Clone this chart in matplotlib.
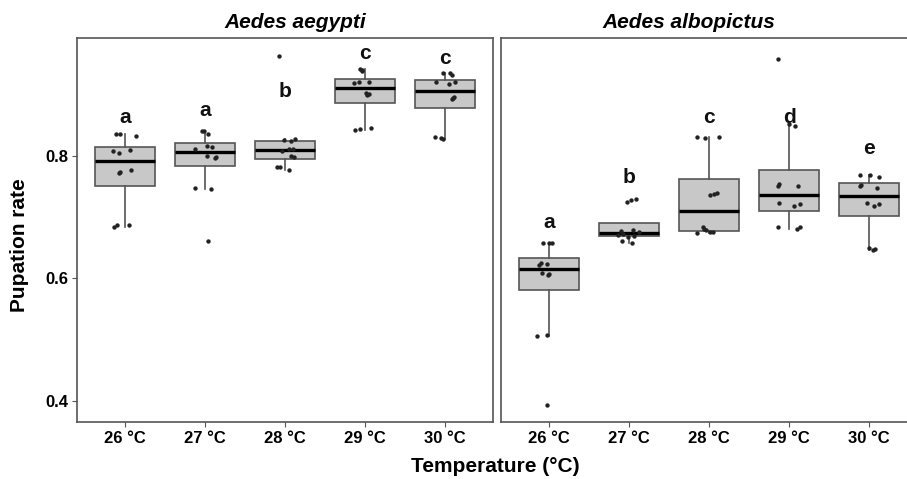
import matplotlib

matplotlib.use("Agg")
import matplotlib.pyplot as plt

plt.rcParams["font.family"] = ["Liberation Sans", "DejaVu Sans"]

TEMPS = ["26 °C", "27 °C", "28 °C", "29 °C", "30 °C"]
SPECIES = ["Aedes aegypti", "Aedes albopictus"]

# pupation rate per replicate
AEG_26 = [0.835, 0.835, 0.832, 0.808, 0.805, 0.809, 0.771, 0.774, 0.776, 0.683, 0.686, 0.687]
AEG_27 = [0.840, 0.841, 0.836, 0.811, 0.815, 0.814, 0.800, 0.796, 0.798, 0.747, 0.746, 0.660]
AEG_28 = [0.826, 0.824, 0.827, 0.811, 0.811, 0.808, 0.800, 0.798, 0.782, 0.781, 0.777, 0.962]
AEG_29 = [0.942, 0.940, 0.938, 0.918, 0.920, 0.921, 0.902, 0.901, 0.899, 0.842, 0.843, 0.845]
AEG_30 = [0.935, 0.935, 0.932, 0.920, 0.917, 0.921, 0.893, 0.895, 0.894, 0.831, 0.829, 0.827]

ALB_26 = [0.657, 0.657, 0.658, 0.622, 0.625, 0.623, 0.609, 0.606, 0.605, 0.506, 0.507, 0.393]
ALB_27 = [0.729, 0.727, 0.724, 0.679, 0.677, 0.676, 0.672, 0.671, 0.669, 0.667, 0.660, 0.657]
ALB_28 = [0.831, 0.828, 0.830, 0.736, 0.737, 0.739, 0.683, 0.680, 0.678, 0.676, 0.676, 0.674]
ALB_29 = [0.851, 0.848, 0.750, 0.753, 0.751, 0.722, 0.718, 0.721, 0.683, 0.680, 0.684, 0.957]
ALB_30 = [0.769, 0.768, 0.765, 0.750, 0.752, 0.747, 0.722, 0.718, 0.721, 0.649, 0.646, 0.648]

# horizontal jitter of each dot (category units), as seen in the picture
AEG_JIT = [
    [-0.115, -0.065, 0.135, -0.148, -0.077, 0.06, -0.08, -0.065, 0.073, -0.135, -0.106, 0.052],
    [-0.04, -0.01, 0.035, -0.13, 0.023, 0.085, 0.023, 0.12, 0.135, -0.13, 0.073, 0.035],
    [-0.015, 0.08, 0.13, 0.05, 0.1, -0.04, 0.07, 0.11, -0.1, -0.065, 0.05, -0.075],
    [-0.06, -0.04, -0.035, -0.14, -0.07, 0.045, 0.015, 0.055, 0.025, -0.12, -0.06, 0.075],
    [-0.026, 0.065, 0.086, -0.11, 0.05, 0.13, 0.086, 0.115, 0.1, -0.13, -0.05, -0.026],
]
ALB_JIT = [
    [-0.083, 0.0, 0.03, -0.125, -0.1, -0.033, -0.088, 0.0, -0.01, -0.158, -0.025, -0.033],
    [0.084, 0.017, -0.033, 0.05, -0.1, 0.125, -0.075, -0.145, 0.06, -0.02, -0.095, 0.04],
    [-0.15, -0.054, 0.121, 0.009, 0.059, 0.1, -0.083, -0.066, -0.041, 0.009, 0.043, -0.15],
    [0.0, 0.071, -0.138, -0.125, 0.113, -0.125, 0.059, 0.134, -0.138, 0.093, 0.134, -0.138],
    [-0.108, 0.009, 0.121, -0.116, -0.095, 0.105, -0.02, 0.063, 0.125, -0.004, 0.05, 0.075],
]

# significance letters and the height they sit at
AEG_LETTERS = ["a", "a", "b", "c", "c"]
AEG_LETTER_Y = [0.8625, 0.873, 0.904, 0.967, 0.958]
ALB_LETTERS = ["a", "b", "c", "d", "e"]
ALB_LETTER_Y = [0.691, 0.764, 0.862, 0.862, 0.811]

Y_TICKS = [0.4, 0.6, 0.8]

FRAME = "#555555"


def draw_panel(ax, groups, jitters, letters, letter_y, show_y):
    pos = list(range(1, len(groups) + 1))
    ax.boxplot(
        groups,
        positions=pos,
        widths=0.75,
        patch_artist=True,
        showfliers=False,
        showcaps=False,
        boxprops=dict(facecolor="#c8c8c8", edgecolor=FRAME, linewidth=1.2),
        whiskerprops=dict(color=FRAME, linewidth=1.2),
        medianprops=dict(color="black", linewidth=2.4),
        zorder=2,
    )
    for p, vals, jit in zip(pos, groups, jitters):
        ax.scatter([p + j for j in jit], vals, s=10, color="#222222", linewidths=0, zorder=3)
    for p, lab, y in zip(pos, letters, letter_y):
        ax.text(p, y, lab, ha="center", va="center", fontsize=15, fontweight="bold", color="#111111")

    ax.set_xlim(0.4, 5.6)
    ax.set_ylim(0.3647, 0.9913)
    ax.set_xticks(pos)
    ax.set_xticklabels(TEMPS, fontsize=12, fontweight="bold")
    ax.set_yticks(Y_TICKS)
    if show_y:
        ax.set_yticklabels([f"{v:.1f}" for v in Y_TICKS], fontsize=12, fontweight="bold")
    else:
        ax.tick_params(axis="y", left=False, labelleft=False)
    ax.tick_params(axis="both", length=3.5, width=0.8, color=FRAME, pad=3)
    for sp in ax.spines.values():
        sp.set_color(FRAME)
        sp.set_linewidth(1.2)


fig = plt.figure(figsize=(9.07, 4.79), dpi=100, facecolor="white")
ax1 = fig.add_axes([0.0851, 0.1184, 0.4584, 0.8013])
ax2 = fig.add_axes([0.5527, 0.1184, 0.4584, 0.8013])

draw_panel(ax1, [AEG_26, AEG_27, AEG_28, AEG_29, AEG_30], AEG_JIT, AEG_LETTERS, AEG_LETTER_Y, True)
draw_panel(ax2, [ALB_26, ALB_27, ALB_28, ALB_29, ALB_30], ALB_JIT, ALB_LETTERS, ALB_LETTER_Y, False)

fig.text(295 / 907, 1 - 22 / 479, SPECIES[0], ha="center", va="center",
         fontsize=15, fontweight="bold", fontstyle="italic")
fig.text(689 / 907, 1 - 22 / 479, SPECIES[1], ha="center", va="center",
         fontsize=15, fontweight="bold", fontstyle="italic")
fig.text(495 / 907, 1 - 467 / 479, "Temperature (°C)", ha="center", va="center",
         fontsize=15, fontweight="bold")
fig.text(20 / 907, 1 - 245 / 479, "Pupation rate", ha="center", va="center",
         rotation=90, fontsize=15, fontweight="bold")

fig.savefig("out.png", dpi=100, facecolor="white")
